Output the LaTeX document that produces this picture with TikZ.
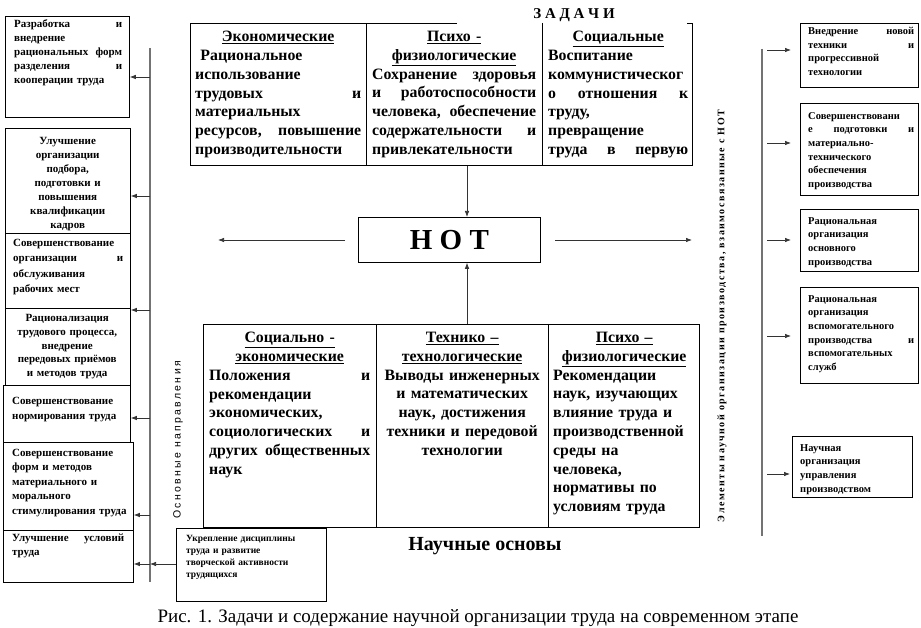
\documentclass[tikz,border=0pt]{standalone}
\usepackage{fontspec}
\setmainfont{Liberation Serif}
\setsansfont{Liberation Sans}
\setmonofont{Liberation Mono}
\usetikzlibrary{arrows.meta}
\setlength{\parindent}{0pt}
\newcommand{\spr}{\hskip 0pt plus 1filll\relax}
\newcommand{\hd}[1]{\makebox[\hsize]{\underline{#1}}}
\begin{document}
\begin{tikzpicture}[x=1pt,y=-1pt,
  frame/.style={draw=black, line width=0.8pt, inner sep=0pt, anchor=north west},
  sm/.style={inner sep=0pt, anchor=north west, align=left, font=\fontsize{11}{14}\selectfont\bfseries},
  smc/.style={sm, align=center},
  rsm/.style={sm, font=\fontsize{10.5}{13.7}\selectfont\bfseries},
  tb/.style={inner sep=0pt, anchor=north west, align=left, font=\fontsize{15.8}{18.8}\selectfont\bfseries},
  tbc/.style={tb, align=center},
  arr/.style={draw=black!80, line width=0.7pt, -{Latex[length=6pt,width=4.5pt]}},
  vline/.style={draw=black!55, line width=1.3pt},
  rule/.style={line width=0.8pt},
]
\useasboundingbox[fill=white] (0,0) rectangle (921,628);

% ---------- top table (tasks) ----------
\node[font=\fontsize{15}{16}\selectfont\bfseries, inner sep=0pt] (zad) at (574,15) {З А Д А Ч И};
\node[frame, draw=none, minimum width=502, minimum height=142] (tt) at (190,23) {};
\draw[rule] ([xshift=267]tt.north west) -- (tt.north west) -- (tt.south west) -- (tt.south east) -- (tt.north east) -- ([xshift=-6]tt.north east);
\draw[rule] ([xshift=176]tt.north west) -- ([xshift=176]tt.south west);
\draw[rule] ([xshift=352]tt.north west) -- ([xshift=352]tt.south west);

\node[tb, text width=166] (tc1) at (195,31) {\hd{Экономические}\\
\ Рациональное\\
использование\\
трудовых\spr и\\
материальных\\
ресурсов,\spr повышение\\
производительности};
\node[tb, text width=164] (tc2) at (372,31) {\hd{Психо -}\\
\hd{физиологические}\\
Сохранение\spr здоровья\\
и\spr работоспособности\\
человека,\spr обеспечение\\
содержательности\spr и\\
привлекательности};
\node[tb, text width=140] (tc3) at (548,31) {\hd{Социальные}\\
Воспитание\\
коммунистическог\\
о\spr отношения\spr к\\
труду,\\
превращение\\
труда\spr в\spr первую};

% ---------- NOT ----------
\node[frame, minimum width=182, minimum height=45] (not) at (358,217) {};
\node[font=\fontsize{29}{32}\selectfont\bfseries, inner sep=0pt] (nott) at (not.center) {Н О Т};
\coordinate (nx) at (467,0);
\coordinate (ls) at (345,240);
\coordinate (le) at (218,240);
\coordinate (rs) at (555,240);
\coordinate (re) at (692,240);

% ---------- bottom table (foundations) ----------
\node[frame, minimum width=496, minimum height=203] (bt) at (203,324) {};
\draw[rule] ([xshift=173]bt.north west) -- ([xshift=173]bt.south west);
\draw[rule] ([xshift=345]bt.north west) -- ([xshift=345]bt.south west);

\node[tb, text width=161] (bc1) at (209,332) {\hd{Социально -}\\
\hd{экономические}\\
Положения\spr и\\
рекомендации\\
экономических,\\
социологических\spr и\\
других\spr общественных\\
наук};
\node[tbc, text width=162] (bc2) at (381,332) {\underline{Технико –}\\
\underline{технологические}\\
Выводы инженерных\\
и математических\\
наук, достижения\\
техники и передовой\\
технологии};
\node[tb, text width=142] (bc3) at (553,332) {\hd{Психо –}\\
\hd{физиологические}\\
Рекомендации\\
наук, изучающих\\
влияние труда и\\
производственной\\
среды на\\
человека,\\
нормативы по\\
условиям труда};

\draw[arr] (tt.south -| nx) -- (not.north -| nx);
\draw[arr] (bt.north -| nx) -- (not.south -| nx);
\draw[arr] (ls) -- (le);
\draw[arr] (rs) -- (re);

% ---------- left column ----------
\coordinate (lt) at (150,48);
\coordinate (lb) at (150,582);
\draw[vline] (lt) -- (lb);
\node[rotate=90, font=\fontsize{10.5}{12}\sffamily\addfontfeature{LetterSpace=22}, inner sep=0pt] (lvt) at (178,440) {Основные направления};

\node[frame, minimum width=124, minimum height=101] (b1) at (5,16) {};
\node[sm, text width=108] (t1) at (14,19) {Разработка\spr и\\
внедрение\\
рациональных\spr форм\\
разделения\spr и\\
кооперации труда};

\node[frame, minimum width=125, minimum height=105] (b2) at (5,128) {};
\node[smc, text width=115] (t2) at (10,137) {Улучшение\\организации\\подбора,\\подготовки и\\повышения\\квалификации\\кадров};

\node[frame, minimum width=125, minimum height=75] (b3) at (5,233) {};
\node[sm, text width=110, font=\fontsize{11}{15.5}\selectfont\bfseries] (t3) at (13,239) {Совершенствование\\
организации\spr и\\
обслуживания\\
рабочих мест};

\node[frame, minimum width=125, minimum height=77] (b4) at (5,308) {};
\node[smc, text width=120, font=\fontsize{11}{13.8}\selectfont\bfseries] (t4) at (7,314) {Рационализация\\трудового процесса,\\внедрение\\передовых приёмов\\и методов труда};

\node[frame, minimum width=127, minimum height=57] (b5) at (3,385) {};
\node[sm, text width=112, font=\fontsize{11}{15}\selectfont\bfseries] (t5) at (12,397) {Совершенствование\\нормирования труда};

\node[frame, minimum width=130, minimum height=88] (b6) at (3,442) {};
\node[sm, text width=118, font=\fontsize{11}{14.5}\selectfont\bfseries] (t6) at (12,449) {Совершенствование\\форм и методов\\материального и\\морального\\стимулирования труда};

\node[frame, minimum width=130, minimum height=52] (b7) at (3,530) {};
\node[sm, text width=112] (t7) at (12,534) {Улучшение\spr условий\\труда};

\node[frame, minimum width=150, minimum height=73] (b8) at (176,528) {};
\node[sm, text width=135, font=\fontsize{9.5}{12}\selectfont\bfseries] (t8) at (186,535) {Укрепление дисциплины\\труда и развитие\\творческой активности\\трудящихся};

\coordinate (a1) at (150,77);
\coordinate (a2) at (150,196);
\coordinate (a3) at (150,310);
\coordinate (a5) at (150,418);
\coordinate (a6) at (150,515);
\coordinate (a7) at (150,564);
\draw[arr] (a1) -- (a1 -| b1.east);
\draw[arr] (a2) -- (a2 -| b2.east);
\draw[arr] (a3) -- (a3 -| b4.east);
\draw[arr] (a5) -- (a5 -| b5.east);
\draw[arr] (a6) -- (a6 -| b6.east);
\draw[arr] (a7) -- (a7 -| b7.east);
\draw[arr] (a7 -| b8.west) -- (a7);

% ---------- right column ----------
\coordinate (rt) at (762,49);
\coordinate (rb) at (762,536);
\draw[vline] (rt) -- (rb);
\node[rotate=90, font=\fontsize{10}{12}\selectfont\bfseries\addfontfeature{LetterSpace=15}, inner sep=0pt] (rvt) at (722,316) {Элементы научной организации производства, взаимосвязанные с НОТ};

\node[frame, minimum width=118, minimum height=64] (r1) at (800,23) {};
\node[rsm, text width=106] (s1) at (808,27) {Внедрение\spr новой\\техники\spr и\\прогрессивной\\технологии};

\node[frame, minimum width=118, minimum height=92] (r2) at (800,103) {};
\node[rsm, text width=106] (s2) at (808,112) {Совершенствовани\\е\spr подготовки\spr и\\материально-\\технического\\обеспечения\\производства};

\node[frame, minimum width=118, minimum height=62] (r3) at (800,209) {};
\node[rsm, text width=106] (s3) at (808,217) {Рациональная\\организация\\основного\\производства};

\node[frame, minimum width=118, minimum height=96] (r4) at (800,287) {};
\node[rsm, text width=106] (s4) at (808,295) {Рациональная\\организация\\вспомогательного\\производства\spr и\\вспомогательных\\служб};

\node[frame, minimum width=120, minimum height=61] (r5) at (792,436) {};
\node[rsm, text width=106] (s5) at (800,444) {Научная\\организация\\управления\\производством};

\coordinate (q1) at (767,50);
\coordinate (q2) at (767,143);
\coordinate (q3) at (767,240);
\coordinate (q4) at (767,336);
\coordinate (q5) at (767,474);
\draw[arr] (q1) -- ([xshift=-9]q1 -| r1.west);
\draw[arr] (q2) -- ([xshift=-9]q2 -| r2.west);
\draw[arr] (q3) -- ([xshift=-9]q3 -| r3.west);
\draw[arr] (q4) -- ([xshift=-9]q4 -| r4.west);
\draw[arr] (q5) -- ([xshift=-2]q5 -| r5.west);

% ---------- bottom labels ----------
\node[font=\fontsize{20}{22}\selectfont\bfseries, inner sep=0pt] (osn) at (485,546) {Научные основы};
\node[font=\fontsize{19}{22}\selectfont, inner sep=0pt, anchor=base] (cap) at (478,622) {Рис. 1. Задачи и содержание научной организации труда на современном этапе};
\end{tikzpicture}
\end{document}
